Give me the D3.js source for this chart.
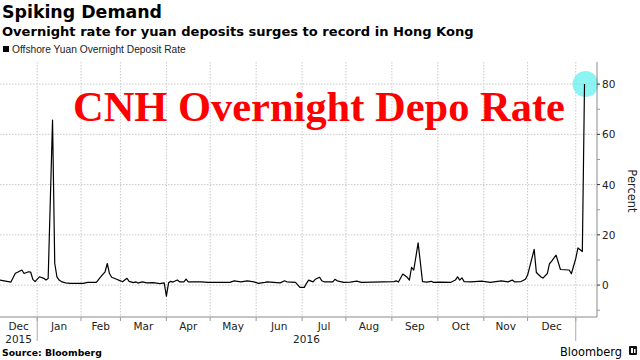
<!DOCTYPE html>
<html><head><meta charset="utf-8">
<script src="https://cdn.jsdelivr.net/npm/d3@7/dist/d3.min.js"></script>
<style>body{margin:0;background:#fff}svg{display:block}</style>
</head><body>
<svg id="c" width="640" height="360"></svg>
<script>
// ---- data ----
const title = "Spiking Demand";
const subtitle = "Overnight rate for yuan deposits surges to record in Hong Kong";
const seriesName = "Offshore Yuan Overnight Deposit Rate";
// trading-day index (0 = first day shown, early Dec 2015)
const days = [0,5,7,8,10,11,13,14,15,16,18,20,21,22,24,25,26,27,28,30,32,38,40,44,46,48,49,50,51,53,55,56,58,59,61,62,63,65,67,70,73,75,76,77,78,79,81,82,84,85,86,88,92,95,105,107,110,113,116,118,121,122,125,128,130,131,135,137,139,140,141,143,144,146,147,148,152,153,154,157,160,163,165,170,175,180,181,182,184,186,187,188,189,191,193,195,197,198,201,206,208,209,210,211,212,215,220,224,229,232,234,235,238,240,241,244,245,247,248,250,251,252,254,256,260,261,263,264,266,267];
const rates = [2.0,1.2,4.7,5.1,6.0,4.6,5.3,5.2,2.3,1.4,3.3,2.7,2.0,2.6,65.7,8.7,3.3,2.0,1.4,0.9,0.7,0.7,1.1,1.1,3.3,5.3,8.6,4.6,3.1,2.4,1.7,1.3,2.7,1.5,1.0,1.3,0.8,1.3,0.9,1.0,0.6,0.9,-4.4,0.9,1.5,1.2,2.0,1.3,1.3,2.4,1.3,1.3,1.3,1.1,1.1,1.7,1.3,1.7,1.3,0.7,1.1,1.3,1.1,0.9,1.7,1.3,1.1,-0.9,-0.9,0.7,2.0,1.3,2.3,3.1,1.7,1.3,1.3,2.3,1.7,1.1,1.2,1.6,1.1,1.2,1.3,1.4,1.7,1.2,4.4,3.1,2.0,7.1,6.0,16.8,1.4,1.2,1.5,1.1,1.2,1.1,2.0,3.3,2.0,2.9,1.4,1.3,1.6,1.1,1.7,1.3,2.0,1.3,1.4,2.3,4.0,14.2,5.0,3.3,2.8,4.6,8.5,9.5,11.9,6.2,6.0,4.5,10.6,14.8,13.4,80.0];
const monthStarts = [17,37,55,76,96,117,138,158,179,200,221,241,263];
const monthLabels = ["Dec","Jan","Feb","Mar","Apr","May","Jun","Jul","Aug","Sep","Oct","Nov","Dec"];
const yearStarts = [17,263];
const yearLabels = ["2015","2016"];
const yTicks = [0,20,40,60,80];
const yMinorTicks = [-10,10,30,50,70];
const annotation = "CNH Overnight Depo Rate";

// ---- layout ----
const svg = d3.select("#c");
const L = 0, R = 597, T = 62, B = 317;
const x = d3.scaleLinear().domain([0, 272.7]).range([L, R]);
const y = d3.scaleLinear().domain([-12.7, 88.8]).range([B, T]);

function fit(sel, w){
  const n = sel.node(); const len = n.getComputedTextLength();
  const fs = parseFloat(sel.attr("font-size"));
  sel.attr("font-size", fs * w / len);
}

// titles
fit(svg.append("text").attr("x",2).attr("y",18).attr("font-family","DejaVu Sans").attr("font-weight","bold")
  .attr("font-size",18).attr("fill","#000").text(title), 160);
fit(svg.append("text").attr("x",2).attr("y",36).attr("font-family","DejaVu Sans").attr("font-weight","bold")
  .attr("font-size",13).attr("fill","#000").text(subtitle), 472);
svg.append("rect").attr("x",3).attr("y",46).attr("width",6).attr("height",6).attr("fill","#000");
fit(svg.append("text").attr("x",12).attr("y",53).attr("font-family","Liberation Sans").attr("font-size",9)
  .attr("fill","#222").text(seriesName), 174);

// gridlines
const g = svg.append("g");
g.selectAll("line.hg").data(yTicks).join("line")
  .attr("x1",L).attr("x2",R).attr("y1",d=>y(d)).attr("y2",d=>y(d))
  .attr("stroke","#c8c8c8").attr("stroke-dasharray","1.5,1.5");
g.selectAll("line.vg").data(monthStarts).join("line")
  .attr("x1",d=>x(d)).attr("x2",d=>x(d)).attr("y1",T).attr("y2",B)
  .attr("stroke","#c8c8c8").attr("stroke-dasharray","1.5,1.5");

// annotation text
fit(svg.append("text").attr("x",73).attr("y",121).attr("font-family","Liberation Serif").attr("font-weight","bold")
  .attr("font-size",44).attr("fill","#ff0000").text(annotation), 492);

// highlight circle
const lastI = days.length - 1;
svg.append("circle").attr("cx",x(days[lastI])+1).attr("cy",y(rates[lastI])).attr("r",13)
  .attr("fill","#5cf0f0").attr("fill-opacity",0.7);

// line
const pts = days.map((d,i)=>[d, rates[i]]);
svg.append("path").datum(pts)
  .attr("d", d3.line().x(d=>x(d[0])).y(d=>y(d[1])))
  .attr("fill","none").attr("stroke","#000").attr("stroke-width",1.2).attr("stroke-linejoin","round");

// axes frame
svg.append("line").attr("x1",L).attr("x2",R).attr("y1",B).attr("y2",B).attr("stroke","#8a8a8a");
svg.append("line").attr("x1",R).attr("x2",R).attr("y1",T).attr("y2",B).attr("stroke","#8a8a8a");

// right axis ticks
svg.selectAll("line.yt").data(yTicks).join("line")
  .attr("x1",R).attr("x2",R+3).attr("y1",d=>y(d)).attr("y2",d=>y(d)).attr("stroke","#333");
svg.selectAll("line.ym").data(yMinorTicks).join("line")
  .attr("x1",R).attr("x2",R+3).attr("y1",d=>y(d)).attr("y2",d=>y(d)).attr("stroke","#999");
svg.selectAll("text.yl").data(yTicks).join("text")
  .attr("x",R+5).attr("y",d=>y(d)+4).attr("font-family","DejaVu Sans").attr("font-size",10.5)
  .attr("fill","#222").text(d=>d);
svg.append("text").attr("transform","translate(628,191) rotate(90)").attr("text-anchor","middle")
  .attr("font-family","DejaVu Sans").attr("font-size",11.5).attr("fill","#222").text("Percent");

// x axis month ticks and labels
svg.selectAll("line.mt").data(monthStarts).join("line")
  .attr("x1",d=>x(d)).attr("x2",d=>x(d)).attr("y1",B).attr("y2",B+4).attr("stroke","#999");
const bounds = [0, ...monthStarts];
svg.selectAll("text.ml").data(monthLabels).join("text")
  .attr("x",(d,i)=>(x(bounds[i])+x(bounds[i+1]))/2).attr("y",330).attr("text-anchor","middle")
  .attr("font-family","DejaVu Sans").attr("font-size",10.5).attr("fill","#222").text(d=>d);
svg.selectAll("line.yr").data(yearStarts).join("line")
  .attr("x1",d=>x(d)).attr("x2",d=>x(d)).attr("y1",B).attr("y2",341).attr("stroke","#aaa");
const ybounds = [0, ...yearStarts];
svg.selectAll("text.yrl").data(yearLabels).join("text")
  .attr("x",(d,i)=>(x(ybounds[i])+x(ybounds[i+1]))/2).attr("y",343).attr("text-anchor","middle")
  .attr("font-family","DejaVu Sans").attr("font-size",10.5).attr("fill","#222").text(d=>d);

// footer
fit(svg.append("text").attr("x",2).attr("y",356).attr("font-family","DejaVu Sans").attr("font-weight","bold")
  .attr("font-size",10).attr("fill","#000").text("Source: Bloomberg"), 100);
fit(svg.append("text").attr("x",560).attr("y",356).attr("font-family","DejaVu Sans")
  .attr("font-size",13).attr("fill","#000").text("Bloomberg"), 62);
svg.append("rect").attr("x",629).attr("y",346).attr("width",8).attr("height",9).attr("rx",1).attr("fill","#111");
svg.append("rect").attr("x",631).attr("y",348).attr("width",2).attr("height",5).attr("fill","#fff");
svg.append("rect").attr("x",634).attr("y",349).attr("width",1.5).attr("height",4).attr("fill","#fff");
</script>
</body></html>
